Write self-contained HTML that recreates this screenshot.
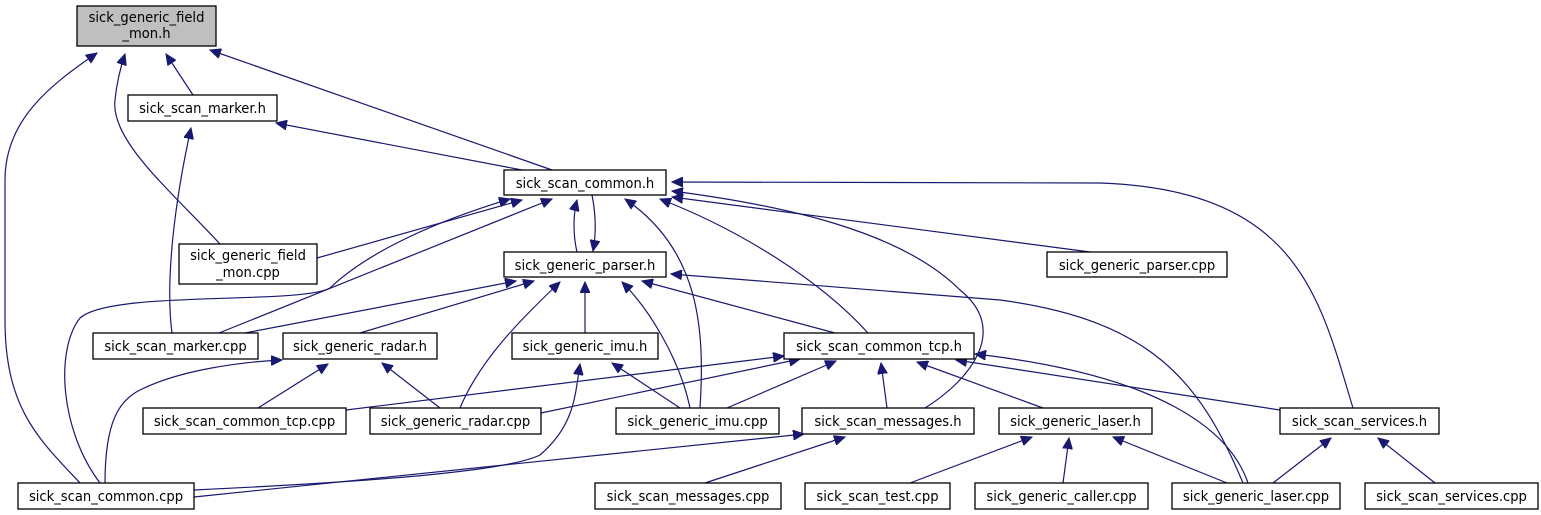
<!DOCTYPE html>
<html><head><meta charset="utf-8"><style>
html,body{margin:0;padding:0;background:#fff;}
svg{display:block;}
text{font-family:"DejaVu Sans Condensed","DejaVu Sans","Liberation Sans",sans-serif;font-size:14.6px;fill:#000;}
.n{fill:#fff;stroke:#000;stroke-width:1.3;}
.e{fill:none;stroke:#191970;stroke-width:1.2;}
</style></head><body>
<svg width="1541" height="515" viewBox="0 0 1541 515" xmlns="http://www.w3.org/2000/svg">
<defs><marker id="a" markerUnits="userSpaceOnUse" markerWidth="12" markerHeight="10" refX="11" refY="5" orient="auto"><path d="M0,0 L11,5 L0,10 Z" fill="#191970" stroke="#191970"/></marker></defs>
<g class="e" marker-end="url(#a)">
<path d="M80,483 C40,440 5,410 5,320 L5,180 C5,120 50,85 97,53"/>
<path d="M220,244 C170,190 110,140 115,100 C117,80 121,66 125,54"/>
<path d="M193,95 L166,54"/>
<path d="M552,170 L210,50"/>
<path d="M522,170 L276,123"/>
<path d="M172,333 C165,280 175,200 191,128"/>
<path d="M317,258 L522,200"/>
<path d="M100,483 C60,430 55,350 80,318 C110,290 300,305 330,288 C370,250 440,220 510,199"/>
<path d="M219,333 L552,199"/>
<path d="M577,252 C573,235 573,215 577,200"/>
<path d="M592,195 C596,215 596,235 593,251"/>
<path d="M700,408 C705,330 700,250 625,199"/>
<path d="M868,333 C820,280 740,230 660,199"/>
<path d="M925,408 C970,380 1010,330 960,290 C900,230 780,205 672,191"/>
<path d="M1090,252 L672,197"/>
<path d="M1353,408 C1320,300 1300,190 1100,183 L672,182"/>
<path d="M245,333 L516,281"/>
<path d="M360,333 L534,281"/>
<path d="M460,408 C480,360 520,320 560,282"/>
<path d="M585,333 L585,282"/>
<path d="M690,408 C680,360 650,310 622,282"/>
<path d="M835,333 L642,281"/>
<path d="M1243,483 C1200,380 1150,320 1000,300 L671,274"/>
<path d="M258,408 L328,364"/>
<path d="M440,408 L382,363"/>
<path d="M105,483 C105,420 120,400 140,390 C180,370 240,362 282,360"/>
<path d="M194,490 C300,485 500,475 540,455 C575,425 575,395 580,364"/>
<path d="M680,408 L612,363"/>
<path d="M346,410 L784,356"/>
<path d="M541,413 L800,359"/>
<path d="M727,408 L836,361"/>
<path d="M887,408 L881,363"/>
<path d="M1043,408 L917,362"/>
<path d="M1280,410 L956,360"/>
<path d="M1248,483 C1230,430 1160,375 975,354"/>
<path d="M194,497 L804,434"/>
<path d="M705,483 L845,437"/>
<path d="M910,483 L1032,437"/>
<path d="M1063,483 L1069,438"/>
<path d="M1227,483 L1113,437"/>
<path d="M1273,483 L1331,438"/>
<path d="M1435,483 L1378,438"/>
</g>
<g>
<rect x="77" y="6" width="139" height="40" fill="#bfbfbf" stroke="#000" stroke-width="1.3"/>
<text x="146.5" y="22" text-anchor="middle">sick_generic_field</text><text x="146.5" y="38" text-anchor="middle">_mon.h</text>
<rect class="n" x="128" y="95" width="149" height="26"/><text x="202.5" y="113" text-anchor="middle">sick_scan_marker.h</text>
<rect class="n" x="504" y="170" width="162" height="25"/><text x="585" y="188" text-anchor="middle">sick_scan_common.h</text>
<rect class="n" x="179" y="244" width="138" height="40"/><text x="248" y="260" text-anchor="middle">sick_generic_field</text><text x="248" y="277" text-anchor="middle">_mon.cpp</text>
<rect class="n" x="504" y="252" width="162" height="25"/><text x="585" y="270" text-anchor="middle">sick_generic_parser.h</text>
<rect class="n" x="1047" y="252" width="180" height="25"/><text x="1137" y="270" text-anchor="middle">sick_generic_parser.cpp</text>
<rect class="n" x="93" y="333" width="165" height="26"/><text x="175.5" y="351" text-anchor="middle">sick_scan_marker.cpp</text>
<rect class="n" x="283" y="333" width="154" height="26"/><text x="360" y="351" text-anchor="middle">sick_generic_radar.h</text>
<rect class="n" x="512" y="333" width="146" height="26"/><text x="585" y="351" text-anchor="middle">sick_generic_imu.h</text>
<rect class="n" x="784" y="333" width="190" height="26"/><text x="879" y="351" text-anchor="middle">sick_scan_common_tcp.h</text>
<rect class="n" x="143" y="408" width="203" height="26"/><text x="244.5" y="426" text-anchor="middle">sick_scan_common_tcp.cpp</text>
<rect class="n" x="370" y="408" width="171" height="26"/><text x="455.5" y="426" text-anchor="middle">sick_generic_radar.cpp</text>
<rect class="n" x="616" y="408" width="163" height="26"/><text x="697.5" y="426" text-anchor="middle">sick_generic_imu.cpp</text>
<rect class="n" x="802" y="408" width="172" height="26"/><text x="888" y="426" text-anchor="middle">sick_scan_messages.h</text>
<rect class="n" x="999" y="408" width="153" height="26"/><text x="1075.5" y="426" text-anchor="middle">sick_generic_laser.h</text>
<rect class="n" x="1280" y="408" width="159" height="26"/><text x="1359.5" y="426" text-anchor="middle">sick_scan_services.h</text>
<rect class="n" x="18" y="483" width="176" height="26"/><text x="106" y="501" text-anchor="middle">sick_scan_common.cpp</text>
<rect class="n" x="595" y="483" width="186" height="26"/><text x="688" y="501" text-anchor="middle">sick_scan_messages.cpp</text>
<rect class="n" x="805" y="483" width="145" height="26"/><text x="877.5" y="501" text-anchor="middle">sick_scan_test.cpp</text>
<rect class="n" x="975" y="483" width="173" height="26"/><text x="1061.5" y="501" text-anchor="middle">sick_generic_caller.cpp</text>
<rect class="n" x="1172" y="483" width="168" height="26"/><text x="1256" y="501" text-anchor="middle">sick_generic_laser.cpp</text>
<rect class="n" x="1365" y="483" width="173" height="26"/><text x="1451.5" y="501" text-anchor="middle">sick_scan_services.cpp</text>
</g>
</svg>
</body></html>
